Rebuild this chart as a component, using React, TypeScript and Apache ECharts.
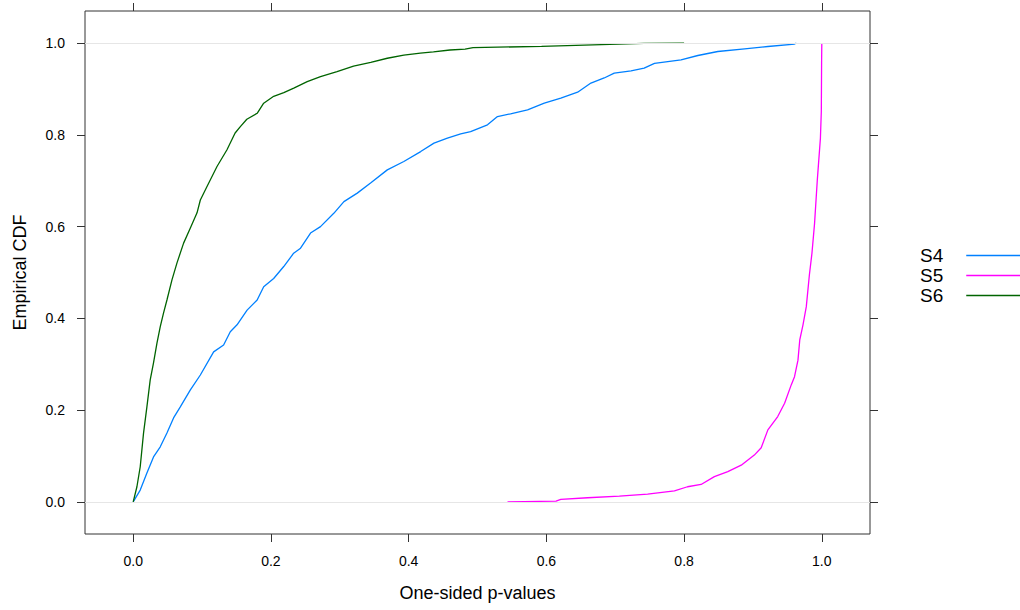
import React, { useEffect, useRef } from "react";
import * as echarts from "echarts";

const seriesNames = ["S4", "S5", "S6"];
const seriesColors = ["#0080ff", "#ff00ff", "#006400"];
const tickValues = [0, 0.2, 0.4, 0.6, 0.8, 1.0];

const s4: [number, number][] = [
  [0, 0], [0.0102, 0.0257], [0.0199, 0.063], [0.0295, 0.098], [0.0393, 0.12], [0.049, 0.15],
  [0.0586, 0.183], [0.0684, 0.207], [0.083, 0.244], [0.0975, 0.2766], [0.1168, 0.327],
  [0.1313, 0.342], [0.141, 0.371], [0.1508, 0.386], [0.1654, 0.418], [0.18, 0.44],
  [0.1895, 0.469], [0.204, 0.487], [0.2186, 0.513], [0.233, 0.542], [0.243, 0.553],
  [0.2575, 0.586], [0.272, 0.6], [0.2913, 0.629], [0.306, 0.6545], [0.3254, 0.673],
  [0.3447, 0.695], [0.369, 0.7237], [0.393, 0.742], [0.4175, 0.7636], [0.4368, 0.782],
  [0.4563, 0.793], [0.4756, 0.802], [0.49, 0.807], [0.5145, 0.822], [0.529, 0.84],
  [0.548, 0.846], [0.5727, 0.8545], [0.597, 0.869], [0.621, 0.88], [0.6454, 0.893],
  [0.6647, 0.913], [0.684, 0.924], [0.6986, 0.9346], [0.723, 0.9396], [0.742, 0.9455],
  [0.757, 0.956], [0.7956, 0.9636], [0.82, 0.973], [0.849, 0.9817], [0.888, 0.9876],
  [0.9217, 0.9926], [0.9604, 0.998], [0.963, 1.0],
];

const s5: [number, number][] = [
  [0.5436, 0], [0.614, 0.0017], [0.621, 0.0055], [0.66, 0.009], [0.706, 0.0127], [0.747, 0.017],
  [0.786, 0.024], [0.805, 0.033], [0.8247, 0.038], [0.844, 0.055], [0.8635, 0.066], [0.883, 0.08],
  [0.902, 0.102], [0.912, 0.118], [0.9217, 0.157], [0.936, 0.186], [0.946, 0.215], [0.9556, 0.255],
  [0.9604, 0.273], [0.9654, 0.309], [0.968, 0.353], [0.9727, 0.386], [0.9775, 0.4255],
  [0.982, 0.495], [0.9857, 0.542], [0.9895, 0.607], [0.9935, 0.702], [0.998, 0.793],
  [0.9993, 0.851], [0.9997, 0.956], [1.0, 1.0],
];

const s6: [number, number][] = [
  [0, 0], [0.0054, 0.033], [0.0102, 0.0766], [0.015, 0.15], [0.0199, 0.207], [0.0247, 0.266],
  [0.0295, 0.303], [0.0345, 0.346], [0.0393, 0.382], [0.0441, 0.412], [0.049, 0.44],
  [0.0563, 0.484], [0.0636, 0.521], [0.0732, 0.564], [0.083, 0.597], [0.0927, 0.63],
  [0.0975, 0.658], [0.107, 0.687], [0.1217, 0.731], [0.136, 0.767], [0.148, 0.804],
  [0.1556, 0.818], [0.165, 0.834], [0.18, 0.847], [0.1895, 0.869], [0.204, 0.884],
  [0.2187, 0.892], [0.2332, 0.902], [0.2527, 0.916], [0.272, 0.927], [0.296, 0.938],
  [0.32, 0.95], [0.345, 0.958], [0.369, 0.967], [0.393, 0.974], [0.417, 0.978],
  [0.436, 0.981], [0.46, 0.985], [0.482, 0.987], [0.4935, 0.99], [0.593, 0.993],
  [0.742, 0.9995], [0.8, 1.0],
];

const seriesData = [s4, s5, s6];

const FONT = "Liberation Sans, Arial, sans-serif";
const AXIS_COLOR = "#333333";

export default function App() {
  const ref = useRef<HTMLDivElement>(null);
  useEffect(() => {
    if (!ref.current) return;
    const chart = echarts.init(ref.current, null, { renderer: "svg" });
    const tickAxisCommon = {
      type: "value" as const,
      min: -0.07,
      max: 1.07,
      axisLine: { show: false, onZero: false },
      splitLine: { show: false },
      axisTick: {
        show: true,
        inside: false,
        length: 8,
        customValues: tickValues,
        lineStyle: { color: AXIS_COLOR, width: 1 },
      },
    };
    const labelStyle = {
      show: true,
      customValues: tickValues,
      margin: 20,
      color: "#000",
      fontSize: 14,
      fontFamily: FONT,
      formatter: (v: number) => v.toFixed(1),
    };
    chart.setOption({
      animation: false,
      backgroundColor: "#ffffff",
      grid: {
        left: 85,
        right: 150,
        top: 11,
        bottom: 76,
        show: true,
        borderColor: AXIS_COLOR,
        borderWidth: 1,
        backgroundColor: "transparent",
      },
      legend: {
        data: seriesNames,
        orient: "vertical",
        left: 915,
        top: 241,
        align: "right",
        itemWidth: 55,
        itemHeight: 1.5,
        itemGap: 1,
        icon: "rect",
        textStyle: { fontSize: 19, fontFamily: FONT, color: "#000", padding: [0, 18, 0, 0] },
      },
      xAxis: [
        {
          ...tickAxisCommon,
          position: "bottom",
          axisLabel: labelStyle,
          name: "One-sided p-values",
          nameLocation: "middle",
          nameGap: 50,
          nameTextStyle: { fontSize: 18, fontFamily: FONT, color: "#000" },
        },
        {
          ...tickAxisCommon,
          position: "top",
          axisLabel: { show: false },
        },
      ],
      yAxis: [
        {
          ...tickAxisCommon,
          position: "left",
          axisLabel: labelStyle,
          name: "Empirical CDF",
          nameLocation: "middle",
          nameGap: 56,
          nameTextStyle: { fontSize: 18, fontFamily: FONT, color: "#000" },
        },
        {
          ...tickAxisCommon,
          position: "right",
          axisLabel: { show: false },
        },
      ],
      series: [
        {
          type: "line",
          name: "ref",
          data: [],
          xAxisIndex: 0,
          yAxisIndex: 0,
          silent: true,
          markLine: {
            silent: true,
            symbol: ["none", "none"],
            label: { show: false },
            lineStyle: { color: "#e6e6e6", width: 1, type: "solid" },
            data: [{ yAxis: 0 }, { yAxis: 1 }],
          },
        },
        ...seriesNames.map((name, i) => ({
          type: "line",
          name,
          data: seriesData[i],
          xAxisIndex: 0,
          yAxisIndex: 0,
          showSymbol: false,
          symbol: "none",
          color: seriesColors[i],
          lineStyle: { color: seriesColors[i], width: 1.3 },
        })),
      ],
    });
    return () => chart.dispose();
  }, []);
  return (
    <div
      ref={ref}
      style={{ position: "fixed", left: 0, top: 0, width: 1020, height: 610, background: "#fff" }}
    />
  );
}
